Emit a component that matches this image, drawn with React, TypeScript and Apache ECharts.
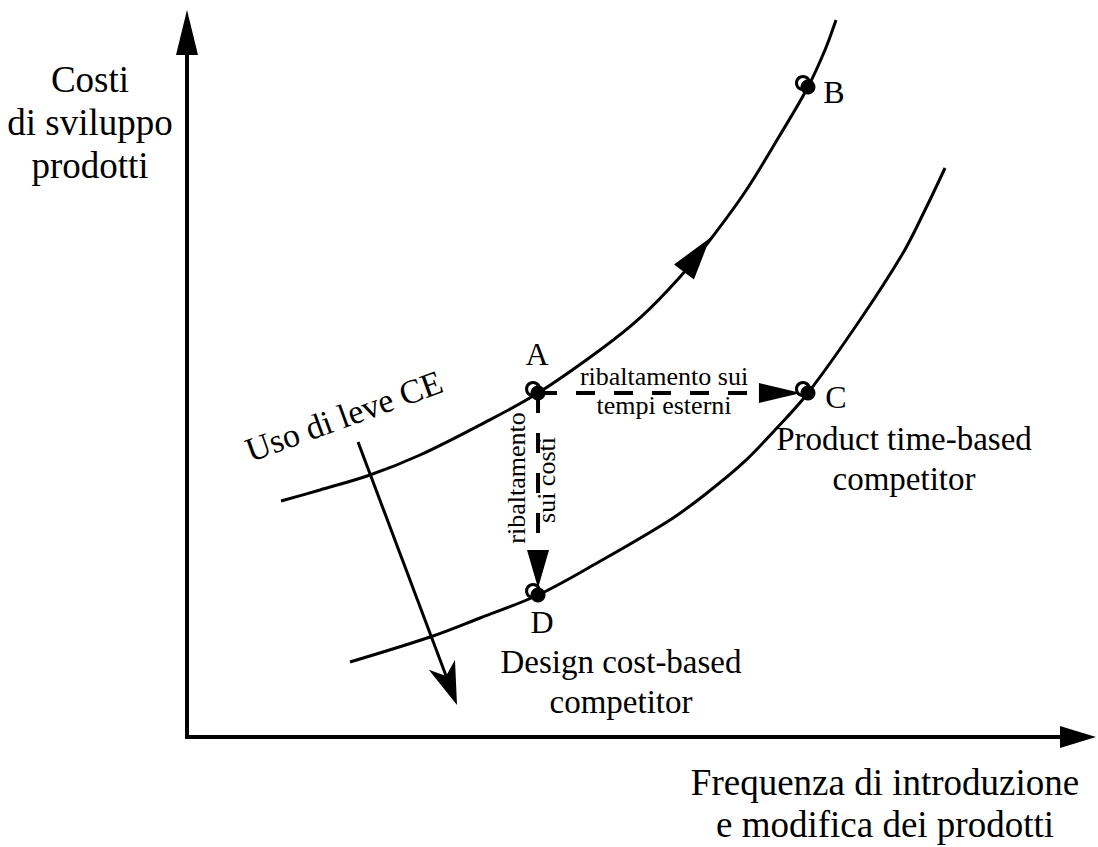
import React, { useEffect, useRef } from "react";
import * as echarts from "echarts";

// Curve "A-B" (current competitor curve), data units: x = frequency, y = cost
const upperCurveX = [10.77, 15.23, 20.96, 26.69, 33.56, 40.21, 47.31, 51.89, 56.47, 59.91, 63.92, 67.93, 71.13, 73.08, 74.34];
const upperCurveY = [34.6, 36.22, 38.42, 41.35, 45.75, 50.44, 56.74, 61.44, 67.45, 72.87, 79.91, 88.27, 95.31, 100.73, 105.13];

// Curve "D-C" (after CE levers)
const lowerCurveX = [18.67, 27.84, 33.56, 40.21, 46.96, 55.33, 59.56, 63.69, 67.35, 71.13, 77.09, 82.02, 84.54, 86.83];
const lowerCurveY = [11.0, 14.66, 17.45, 20.82, 25.51, 31.82, 35.78, 40.18, 45.01, 50.44, 61.14, 70.97, 77.27, 83.43];

// Named points
const pointNames = ["A", "B", "C", "D"];
const pointX = [40.21, 71.13, 71.13, 40.21];
const pointY = [50.44, 95.31, 50.44, 20.82];

// Arrows: from (x1,y1) to (x2,y2), kind index
const arrowFromX = [40.21, 40.21, 56.93, 19.59];
const arrowFromY = [50.44, 50.44, 68.18, 43.26];
const arrowToX = [71.13, 40.21, 59.91, 30.93];
const arrowToY = [50.44, 20.82, 73.17, 4.69];
const arrowKind = [0, 1, 2, 3];

const FONT = "'Liberation Serif', 'Times New Roman', Times, serif";

const arrowStyles = [
  { lineWidth: 4, dash: [19, 19], backoff: 7, headLen: 42, headWidth: 20, notch: 0 },
  { lineWidth: 4, dash: [20, 20], backoff: 7, headLen: 38, headWidth: 22, notch: 0 },
  { lineWidth: 0, dash: null, backoff: 0, headLen: -1, headWidth: 25, notch: 0 },
  { lineWidth: 3, dash: null, backoff: 0, headLen: 43, headWidth: 28, notch: 0.72 },
];

function zip(xs: number[], ys: number[]) {
  return xs.map((x, i) => [x, ys[i]]);
}

function buildOption(): any {
  const arrowData = arrowKind.map((k, i) => [arrowFromX[i], arrowFromY[i], arrowToX[i], arrowToY[i], k]);

  const text = (t: string, x: number, y: number, size: number, extra: any = {}) => ({
    type: "text",
    x,
    y,
    rotation: extra.rotation || 0,
    silent: true,
    style: {
      text: t,
      fill: "#000",
      font: `${size}px ${FONT}`,
      fontSize: size,
      fontFamily: FONT,
      textAlign: "center",
      textVerticalAlign: "middle",
      align: "center",
      verticalAlign: "middle",
      lineHeight: extra.lineHeight || Math.round(size * 1.2),
    },
  });

  return {
    animation: false,
    backgroundColor: "#fff",
    grid: { left: 187, right: 38, top: 55, bottom: 110, containLabel: false },
    xAxis: {
      type: "value",
      min: 0,
      max: 100,
      axisLine: {
        show: true,
        symbol: ["none", "triangle"],
        symbolSize: [22, 36],
        symbolOffset: [0, 18],
        lineStyle: { color: "#000", width: 4, cap: "square" },
      },
      axisTick: { show: false },
      axisLabel: { show: false },
      splitLine: { show: false },
    },
    yAxis: {
      type: "value",
      min: 0,
      max: 100,
      axisLine: {
        show: true,
        symbol: ["none", "triangle"],
        symbolSize: [22, 45],
        symbolOffset: [0, 22.5],
        lineStyle: { color: "#000", width: 4, cap: "square" },
      },
      axisTick: { show: false },
      axisLabel: { show: false },
      splitLine: { show: false },
    },
    series: [
      {
        type: "line",
        name: "upper",
        data: zip(upperCurveX, upperCurveY),
        smooth: 0.35,
        symbol: "none",
        clip: false,
        silent: true,
        z: 2,
        lineStyle: { color: "#000", width: 3 },
      },
      {
        type: "line",
        name: "lower",
        data: zip(lowerCurveX, lowerCurveY),
        smooth: 0.35,
        symbol: "none",
        clip: false,
        silent: true,
        z: 2,
        lineStyle: { color: "#000", width: 3 },
      },
      {
        type: "custom",
        name: "arrows",
        data: arrowData,
        clip: false,
        silent: true,
        z: 3,
        renderItem: (params: any, api: any) => {
          const p1 = api.coord([api.value(0), api.value(1)]);
          const p2 = api.coord([api.value(2), api.value(3)]);
          const st = arrowStyles[api.value(4)];
          const dx = p2[0] - p1[0];
          const dy = p2[1] - p1[1];
          const len = Math.hypot(dx, dy) || 1;
          const ux = dx / len;
          const uy = dy / len;
          const nx = -uy;
          const ny = ux;
          const headLen = st.headLen < 0 ? len : st.headLen;
          const tip = [p2[0] - ux * st.backoff, p2[1] - uy * st.backoff];
          const base = [tip[0] - ux * headLen, tip[1] - uy * headLen];
          const w = st.headWidth / 2;
          const children: any[] = [];
          if (st.lineWidth > 0) {
            const end = st.notch
              ? [tip[0] - ux * headLen * st.notch, tip[1] - uy * headLen * st.notch]
              : base;
            children.push({
              type: "line",
              shape: { x1: p1[0], y1: p1[1], x2: end[0], y2: end[1] },
              style: { stroke: "#000", lineWidth: st.lineWidth, lineDash: st.dash || null, fill: null },
            });
          }
          const wingA = [base[0] + nx * w, base[1] + ny * w];
          const wingB = [base[0] - nx * w, base[1] - ny * w];
          const pts = st.notch
            ? [tip, wingA, [tip[0] - ux * headLen * st.notch, tip[1] - uy * headLen * st.notch], wingB]
            : [tip, wingA, wingB];
          children.push({ type: "polygon", shape: { points: pts }, style: { fill: "#000", stroke: null } });
          return { type: "group", children };
        },
      },
      {
        type: "scatter",
        name: "points-open",
        data: zip(pointX, pointY),
        symbol: "circle",
        symbolSize: 13,
        symbolOffset: [-5, -4],
        silent: true,
        z: 4,
        itemStyle: { color: "#fff", borderColor: "#000", borderWidth: 3, opacity: 1 },
      },
      {
        type: "scatter",
        name: "points",
        data: pointX.map((x, i) => ({ value: [x, pointY[i]], name: pointNames[i] })),
        symbol: "circle",
        symbolSize: 15,
        silent: true,
        z: 5,
        itemStyle: { color: "#000", opacity: 1 },
      },
    ],
    graphic: {
      elements: [
        text("Costi\ndi sviluppo\nprodotti", 90, 122, 37, { lineHeight: 43 }),
        text("Frequenza di introduzione\ne modifica dei prodotti", 885, 803, 37, { lineHeight: 42 }),
        text(pointNames[0], 537, 354, 32),
        text(pointNames[1], 834, 92, 32),
        text(pointNames[2], 836, 397, 32),
        text(pointNames[3], 542, 622, 32),
        text("Product time-based\ncompetitor", 904, 459, 33, { lineHeight: 40 }),
        text("Design cost-based\ncompetitor", 621, 682, 33, { lineHeight: 40 }),
        text("ribaltamento sui\ntempi esterni", 664, 391, 26, { lineHeight: 29 }),
        text("ribaltamento", 516, 478, 26, { rotation: Math.PI / 2 }),
        text("sui costi", 546, 480, 26, { rotation: Math.PI / 2 }),
        text("Uso di leve CE", 344, 416, 34, { rotation: (20 * Math.PI) / 180 }),
      ],
    },
  };
}

export default function App() {
  const ref = useRef<HTMLDivElement>(null);
  useEffect(() => {
    if (!ref.current) return;
    const chart = echarts.init(ref.current, null, { renderer: "svg" });
    chart.setOption(buildOption());
    return () => chart.dispose();
  }, []);
  return (
    <div
      ref={ref}
      style={{ position: "absolute", left: 0, top: 0, width: 1098, height: 847, background: "#fff" }}
    />
  );
}
